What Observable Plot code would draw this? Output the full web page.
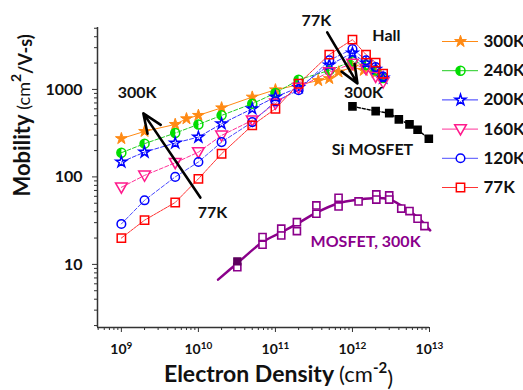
<!DOCTYPE html>
<html><head><meta charset="utf-8">
<script src="https://cdn.jsdelivr.net/npm/d3@7"></script>
<script src="https://cdn.jsdelivr.net/npm/@observablehq/plot@0.6"></script>
<style>
body{margin:0;background:#fff;}
#wrap{position:relative;width:523px;height:390px;overflow:hidden;}
#legend{position:absolute;left:430px;top:0px;}
</style></head><body><div id="wrap"><div id="main"></div><div id="legend"></div></div>
<script>
// ---- Data ----
const seriesNames = ["300K","240K","200K","160K","120K","77K"];
const hallDensity = [1e9,2e9,5e9,1e10,2e10,5e10,1e11,2e11,5e11,1e12,1.5e12,2e12,2.5e12];
const mu240 = [189,240,317,398,505,686,908,1290,1650,2100,1900,1650,1350];
const mu200 = [148,192,244,285,405,601,820,1050,1900,2600,2000,1700,1350];
const mu160 = [76,104,145,192,298,443,690,1050,1580,1970,1720,1400,1210];
const mu120 = [29,54,100,148,250,423,730,980,2150,2900,2150,1800,1400];
const mu77  = [20,32,51,95,184,388,601,1160,2500,3700,2500,2020,1510];
const density300 = [1e9,2e9,5e9,7e9,1e10,2e10,5e10,1e11,3.6e11,5e11,6.6e11,1e12,1.4e12,2e12,2.5e12];
const mu300 = [274,331,398,462,505,616,817,990,1260,1330,1580,1800,1650,1550,1330];
const siDensity = [1e12,2e12,3e12,4e12,5.5e12,7e12,9.8e12];
const siMobility = [640,565,536,454,398,346,273];
const mosDensity = [3.2e10,6.8e10,6.8e10,1.19e11,1.19e11,1.9e11,1.9e11,3.4e11,3.4e11,6.6e11,6.6e11,1.2e12,2.04e12,2.04e12,3e12,3e12,4.3e12,5.5e12,7e12,8.6e12];
const mosMobility = [9.3,20.5,16.8,25.6,21.4,30.4,24,47.2,37.9,57.8,46,52.5,63,55,61.5,55,43.4,40.7,33.3,27.4];
const mosFilledDensity = [3.2e10];
const mosFilledMobility = [10.8];
const mosFitDensity = [1.8e10,3.2e10,6.8e10,1.2e11,1.9e11,3.4e11,6.6e11,1.2e12,2e12,3e12,4.3e12,7e12,1.02e13];
const mosFitMobility = [6.7,10.3,18,23.3,29,39,50,55,57.5,55.5,47,34.6,24.5];
const xTicks = [1e9,1e10,1e11,1e12,1e13];
const xTickExponents = ["9","10","11","12","13"];
const yTicks = [10,100,1000];
const yTickLabels = ["10","100","1000"];
const annotationTexts = ["300K","77K","77K","300K","Hall","Si MOSFET","MOSFET, 300K"];
const annotationX = [1.6e9,1.52e10,3.4e11,1.39e12,2.76e12,1.82e12,1.48e12];
const annotationY = [924,38.3,6150,924,4140,201,18.3];
const arrowX1 = [1.06e10,4.7e11];
const arrowY1 = [58,4480];
const arrowX2 = [1.93e9,1.16e12];
const arrowY2 = [532,1170];

// ---- Styles ----
const triDown = {draw(ctx, size){const s=Math.sqrt(size);ctx.moveTo(-0.6*s,-0.45*s);ctx.lineTo(0.6*s,-0.45*s);ctx.lineTo(0,0.6*s);ctx.closePath();}};
const halfLeft = {draw(ctx, size){const r=Math.sqrt(size/Math.PI);ctx.moveTo(0,-r);ctx.arc(0,0,r,-Math.PI/2,Math.PI/2,true);ctx.closePath();}};
const style = {
  "300K": {color:"#ff8a14", line:"#ff8a14", symbol:"star", fill:"#ff8a14", r:3.7, sw:1, dash:null},
  "240K": {color:"#00dd00", line:"#22cc22", symbol:"circle", fill:"none", half:true, r:4.5, sw:1.5, dash:"4,2"},
  "200K": {color:"#0000ff", line:"#3333ff", symbol:"star", fill:"none", r:3.4, sw:1.5, dash:"4,2"},
  "160K": {color:"#ff1a8c", line:"#ff3399", symbol:triDown, fill:"none", r:5.5, sw:1.5, dash:"4,2"},
  "120K": {color:"#0000ff", line:"#4d4dff", symbol:"circle", fill:"none", r:4.3, sw:1.5, dash:"4,2"},
  "77K":  {color:"#ff0000", line:"#ff3333", symbol:"square", fill:"none", r:4.7, sw:1.5, dash:"3,1"}
};
const seriesX = {"300K":density300,"240K":hallDensity,"200K":hallDensity,"160K":hallDensity,"120K":hallDensity,"77K":hallDensity};
const seriesY = {"300K":mu300,"240K":mu240,"200K":mu200,"160K":mu160,"120K":mu120,"77K":mu77};
const rows = name => seriesX[name].map((x,i)=>({x, y: seriesY[name][i]}));
const pairs = (xs, ys) => xs.map((x,i)=>({x, y: ys[i]}));

const xMinor = [], yMinor = [];
for (let e = 8; e <= 12; e++) for (let m = 2; m <= 9; m++) { const v = m*10**e; if (v >= 5e8 && v < 1e13) xMinor.push(v); }
for (let e = 0; e <= 3; e++) for (let m = 2; m <= 9; m++) { const v = m*10**e; if (v >= 2 && v < 5100) yMinor.push(v); }

const marks = [];
// MOSFET
marks.push(Plot.line(pairs(mosFitDensity, mosFitMobility), {x:"x", y:"y", stroke:"#8b008b", strokeWidth:2.5, curve:"catmull-rom"}));
marks.push(Plot.dot(pairs(mosDensity, mosMobility), {x:"x", y:"y", symbol:"square", r:4, stroke:"#8b008b", strokeWidth:1.6, fill:"white"}));
marks.push(Plot.dot(pairs(mosFilledDensity, mosFilledMobility), {x:"x", y:"y", symbol:"square", r:4, stroke:"#5e005e", strokeWidth:1.2, fill:"#5e005e"}));
// Si MOSFET
marks.push(Plot.line(pairs(siDensity, siMobility), {x:"x", y:"y", stroke:"black", strokeWidth:1.5, strokeDasharray:"3,2"}));
marks.push(Plot.dot(pairs(siDensity, siMobility), {x:"x", y:"y", symbol:"square", r:4, fill:"black", stroke:"black"}));
// Hall lines
for (const name of seriesNames) {
  const s = style[name];
  marks.push(Plot.line(rows(name), {x:"x", y:"y", stroke:s.line, strokeWidth:1, strokeDasharray:s.dash}));
}
// Hall markers
for (const name of seriesNames) {
  const s = style[name];
  if (s.half) {
    marks.push(Plot.dot(rows(name), {x:"x", y:"y", symbol:halfLeft, r:s.r, fill:s.color, stroke:"none"}));
  }
  marks.push(Plot.dot(rows(name), {x:"x", y:"y", symbol:s.symbol, r:s.r, fill:s.fill, stroke:s.color, strokeWidth:s.sw}));
}
// arrows
marks.push(Plot.arrow(arrowX1.map((_, i) => i), {x1:i=>arrowX1[i], y1:i=>arrowY1[i], x2:i=>arrowX2[i], y2:i=>arrowY2[i], stroke:"black", strokeWidth:2.6, headLength:12, headAngle:45}));
// annotation text
marks.push(Plot.text(annotationTexts.map((t,i)=>({t, x:annotationX[i], y:annotationY[i]})), {x:"x", y:"y", text:"t", fontSize:16, fontWeight:"bold", fill:d => d.t.startsWith("MOSFET") ? "#8b008b" : "#111"}));
// axes
marks.push(Plot.ruleX([4.9e8], {stroke:"#333", strokeWidth:1.5}));
marks.push(Plot.ruleY([1.9], {stroke:"#333", strokeWidth:1.5}));
marks.push(Plot.axisY(yTicks, {tickSize:5, tickPadding:10, tickFormat:d=>yTickLabels[yTicks.indexOf(d)], fontSize:16, fontWeight:"bold", label:null, stroke:"#333", fill:"#111"}));
marks.push(Plot.axisY(yMinor, {tickSize:3, tickFormat:()=>"", label:null, stroke:"#333"}));
marks.push(Plot.axisX(xTicks, {tickSize:5, tickPadding:12, tickFormat:d=>xTickExponents[xTicks.indexOf(d)], fontSize:14, fontWeight:"bold", label:null, stroke:"#333", fill:"#111"}));
marks.push(Plot.axisX(xMinor, {tickSize:3, tickFormat:()=>"", label:null, stroke:"#333"}));
// axis titles
marks.push(Plot.text(["Electron Density (cm-2)"], {frameAnchor:"bottom", dx:15, dy:54, fontSize:23, fontWeight:"bold", fill:"#111", lineAnchor:"bottom"}));
marks.push(Plot.text(["Mobility (cm2/V-s)"], {frameAnchor:"left", dx:-75, dy:19, rotate:-90, fontSize:22, fontWeight:"bold", fill:"#111"}));

const svg = Plot.plot({
  width:523, height:390,
  marginLeft:97, marginRight:94, marginTop:27, marginBottom:63,
  x:{type:"log", domain:[4.9e8,1e13]},
  y:{type:"log", domain:[1.9,5100]},
  style:{fontFamily:"Lato, 'Open Sans', sans-serif", background:"white", overflow:"visible"},
  marks
});
document.getElementById("main").appendChild(svg);

// remove empty minor tick labels, superscripts for major x tick labels
d3.select(svg).selectAll('g[aria-label="x-axis tick label"] text, g[aria-label="y-axis tick label"] text').each(function(){
  if (this.textContent === "") this.remove();
});
d3.select(svg).selectAll('g[aria-label="x-axis tick label"] text').each(function(){
  const e = this.textContent; if (!e) return; this.textContent = "";
  const t = d3.select(this);
  t.append("tspan").text("10");
  t.append("tspan").attr("dy","-0.55em").attr("font-size","10px").text(e);
});
// axis title formatting
d3.select(svg).selectAll('text').each(function(){
  const s = this.textContent; const t = d3.select(this);
  if (s === "Electron Density (cm-2)") {
    this.textContent = "";
    t.append("tspan").text("Electron Density ");
    t.append("tspan").attr("font-weight","normal").attr("font-size","22px").text("(cm");
    t.append("tspan").attr("dy","-0.6em").attr("font-size","15px").text("-2");
    t.append("tspan").attr("dy","0.6em").attr("font-weight","normal").attr("font-size","22px").text(")");
  } else if (s === "Mobility (cm2/V-s)") {
    this.textContent = "";
    t.append("tspan").text("Mobility ");
    t.append("tspan").attr("font-weight","normal").attr("font-size","18px").text("(cm");
    t.append("tspan").attr("dy","-0.6em").attr("font-size","14px").text("2");
    t.append("tspan").attr("dy","0.6em").attr("font-size","18px").text("/V-s)");
  }
});

// ---- Legend ----
const legendMarks = [];
const rowY = d => 41 + seriesNames.indexOf(d)*29.2;
for (const name of seriesNames) {
  const s = style[name];
  legendMarks.push(Plot.ruleY([name], {y:rowY, x1:12, x2:48, stroke:s.line, strokeWidth:1}));
  if (s.half) legendMarks.push(Plot.dot([name], {x:()=>30, y:rowY, symbol:halfLeft, r:s.r, fill:s.color, stroke:"none"}));
  legendMarks.push(Plot.dot([name], {x:()=>30, y:rowY, symbol:s.symbol, r:s.r, fill:s.fill === "none" ? (s.half ? "none" : "white") : s.fill, stroke:s.color, strokeWidth:s.sw}));
  legendMarks.push(Plot.text([name], {x:()=>53, y:rowY, text:d=>d, textAnchor:"start", fontSize:17, fontWeight:"bold", fill:"#111"}));
}
const legend = Plot.plot({
  width:93, height:200, margin:0,
  x:{domain:[0,93], range:[0,93], axis:null},
  y:{domain:[0,200], range:[0,200], axis:null},
  style:{fontFamily:"Lato, 'Open Sans', sans-serif", background:"transparent"},
  marks: legendMarks
});
document.getElementById("legend").appendChild(legend);
</script>
</body></html>
